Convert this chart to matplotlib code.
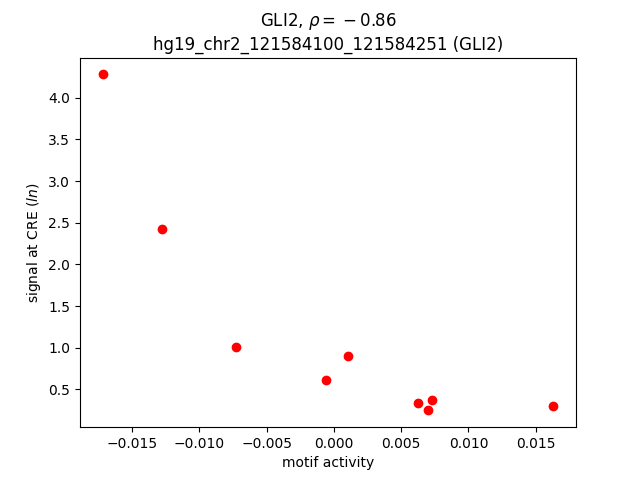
import numpy as np
import matplotlib
matplotlib.use("Agg")
import matplotlib.pyplot as plt

motif = 'GLI2'
cre = 'hg19_chr2_121584100_121584251'
rho = -0.86

# motif activity vs signal at the CRE
activity = [-0.01719, -0.01278, -0.00729, -0.00060, 0.00106, 0.00627, 0.00727, 0.00699, 0.01632]
signal = [4.280, 2.430, 1.003, 0.608, 0.895, 0.335, 0.368, 0.248, 0.296]

fig, ax = plt.subplots(figsize=(6.4, 4.8), dpi=100)
ax.scatter(activity, signal, color='red')
ax.set_xlabel('motif activity')
ax.set_ylabel('signal at CRE ($ln$)')
# empty group before the minus gives the old-style binary spacing
ax.set_title('%s, $\\rho = {}%.2f$\n%s (%s)' % (motif, rho, cre, motif))
fig.savefig('out.png')
